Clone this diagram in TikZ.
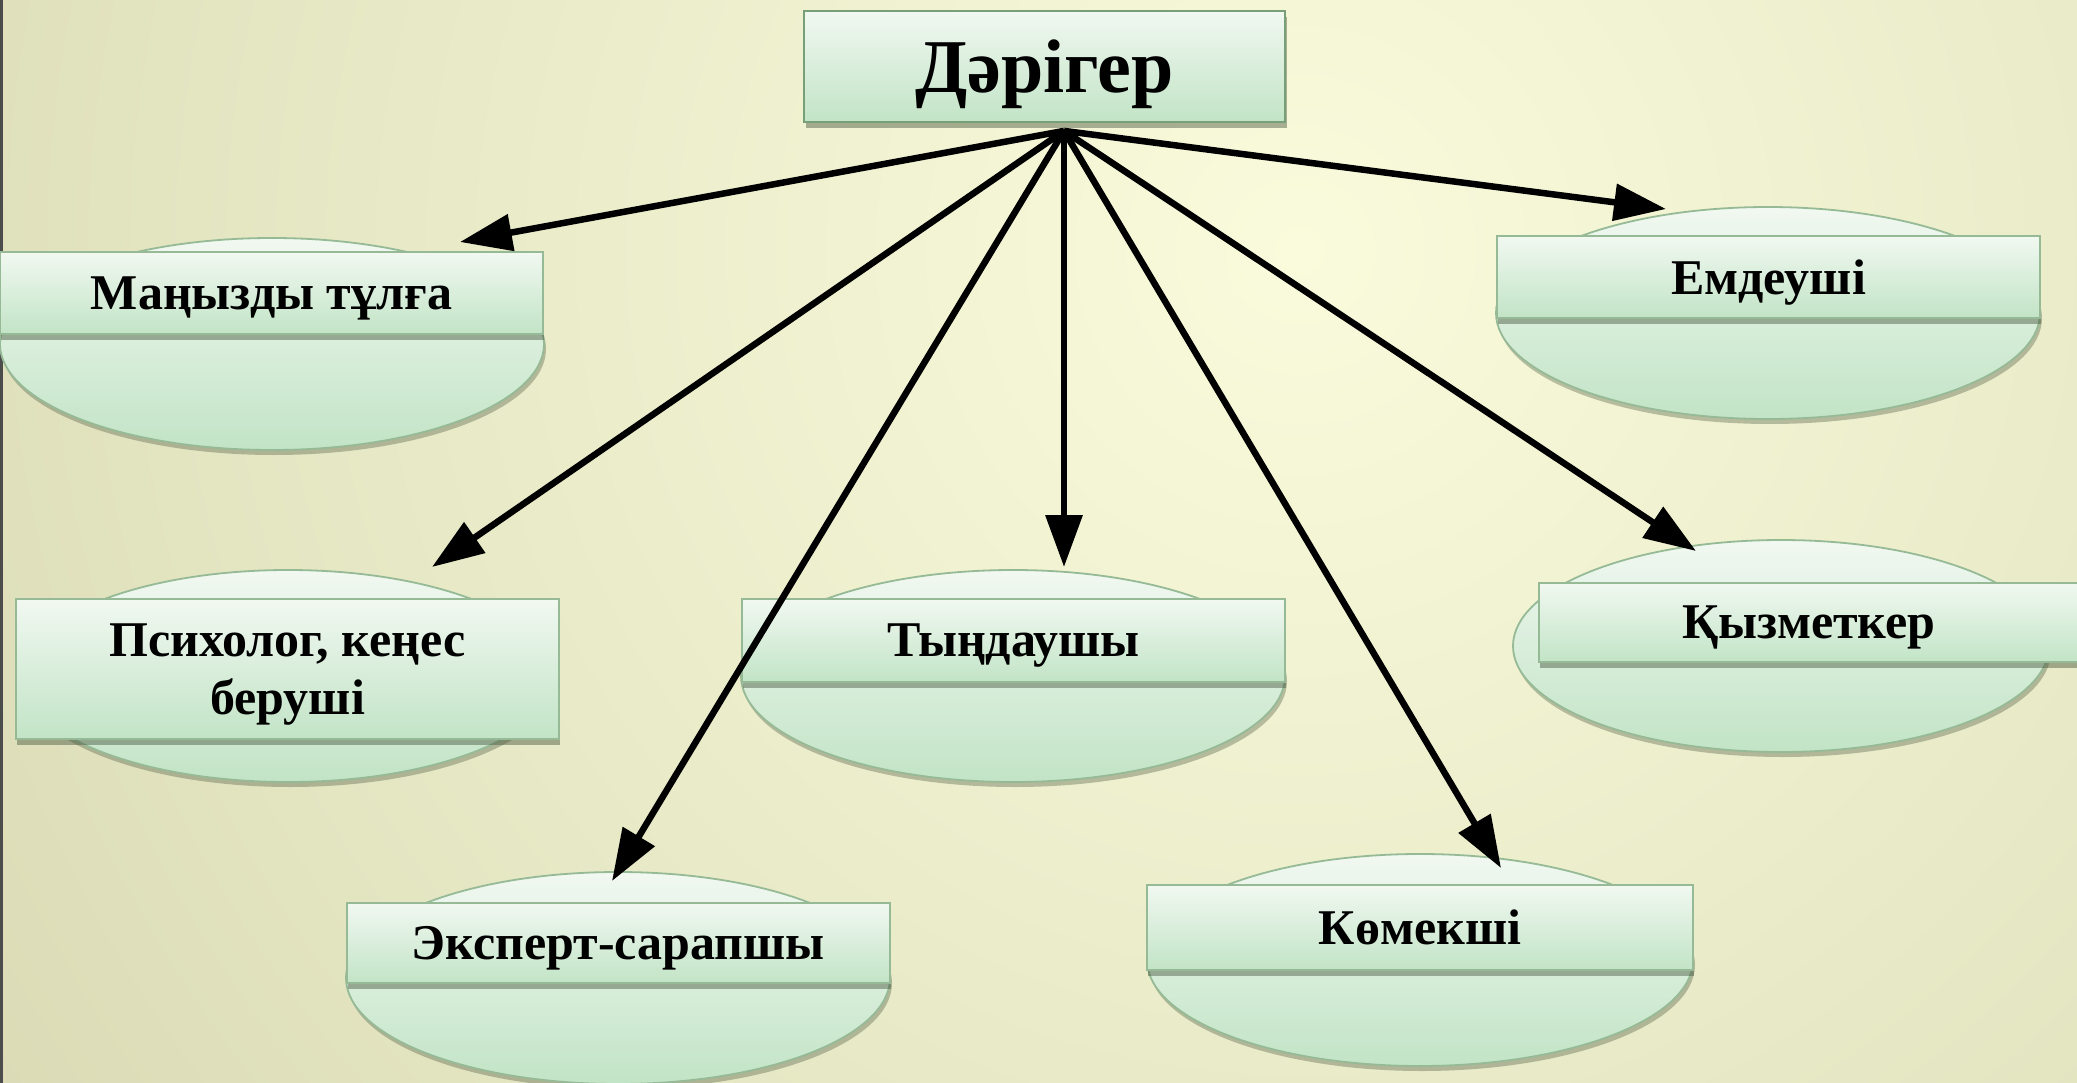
\documentclass[tikz,border=0pt]{standalone}
\usepackage{fontspec}
\setmainfont{Liberation Serif}
\usetikzlibrary{arrows.meta,shapes.geometric,shadows}
\definecolor{bgIn}{RGB}{250,251,220}
\definecolor{bgOut}{RGB}{204,205,164}
\definecolor{nTop}{RGB}{241,248,241}
\definecolor{nBot}{RGB}{194,228,198}
\definecolor{nBorder}{RGB}{150,186,150}
\definecolor{tBorder}{RGB}{120,160,120}
\definecolor{shad}{RGB}{70,85,60}
\begin{document}
\begin{tikzpicture}[x=1pt,y=-1pt,
  lbl/.style={rectangle, draw=nBorder, line width=1.8pt, top color=nTop, bottom color=nBot,
    inner sep=0pt, align=center, text=black, text depth=0pt,
    font=\bfseries\fontsize{50}{58}\selectfont,
    drop shadow={shadow xshift=1pt, shadow yshift=-6pt, opacity=0.45, fill=shad}},
  oval/.style={ellipse, draw=nBorder, line width=1.8pt, top color=nTop, bottom color=nBot,
    inner sep=0pt, minimum height=212pt,
    drop shadow={shadow xshift=2pt, shadow yshift=-5pt, opacity=0.35, fill=shad}},
  arr/.style={line width=6.5pt, draw=black, -{Triangle[length=52pt,width=36pt]}}
]
\useasboundingbox (0,0) rectangle (2077,1083);
% background
\fill[bgOut] (0,0) rectangle (2077,1083);
\begin{scope}
  \clip (0,0) rectangle (2077,1083);
  \shade[inner color=bgIn, outer color=bgOut] (1300,250) circle (2300pt);
\end{scope}
\fill[black!70] (0,0) rectangle (3,1083);

% top node
\node[rectangle, draw=tBorder, line width=1.8pt, top color=nTop, bottom color=nBot,
  minimum width=481pt, minimum height=111pt, inner sep=0pt, text depth=0pt,
  font=\bfseries\fontsize{76}{84}\selectfont,
  drop shadow={shadow xshift=2pt, shadow yshift=-6pt, opacity=0.45, fill=shad}]
  (top) at (1044.5,66.5) {Дәрігер};

% ellipses
\node[oval, minimum width=544pt] (eA) at (272,344) {};
\node[oval, minimum width=544pt] (eB) at (1768,313) {};
\node[oval, minimum width=534pt] (eC) at (288,676) {};
\node[oval, minimum width=544pt] (eD) at (1013,676) {};
\node[oval, minimum width=536pt] (eE) at (1781,646) {};
\node[oval, minimum width=544pt] (eF) at (618,978) {};
\node[oval, minimum width=546pt] (eG) at (1420,960) {};

% labels
\node[lbl, minimum width=543pt, minimum height=82pt] (A) at (271.5,293) {Маңызды тұлға};
\node[lbl, minimum width=543pt, minimum height=82pt] (B) at (1768.5,277) {Емдеуші};
\node[lbl, minimum width=543pt, minimum height=140pt] (C) at (287.5,669) {Психолог, кеңес\\беруші};
\node[lbl, minimum width=543pt, minimum height=83pt] (D) at (1013.5,640.5) {Тыңдаушы};
\node[lbl, minimum width=540pt, minimum height=79pt] (E) at (1809,622.5) {Қызметкер};
\node[lbl, minimum width=543pt, minimum height=80pt] (F) at (618.5,943) {Эксперт-сарапшы};
\node[lbl, minimum width=546pt, minimum height=85pt] (G) at (1420,927.5) {Көмекші};

% connectors
\coordinate (hub) at ([xshift=19.5pt,yshift=-8pt]top.south);
\coordinate (tA) at (460,242);
\coordinate (tB) at (1666,209);
\coordinate (tC) at (432,567);
\coordinate (tD) at (1064,567);
\coordinate (tE) at (1696,551);
\coordinate (tF) at (612,881);
\coordinate (tG) at (1501,868);
\draw[arr] (hub) -- (tA);
\draw[arr] (hub) -- (tB);
\draw[arr] (hub) -- (tC);
\draw[arr] (hub) -- (tD);
\draw[arr] (hub) -- (tE);
\draw[arr] (hub) -- (tF);
\draw[arr] (hub) -- (tG);
\end{tikzpicture}
\end{document}
